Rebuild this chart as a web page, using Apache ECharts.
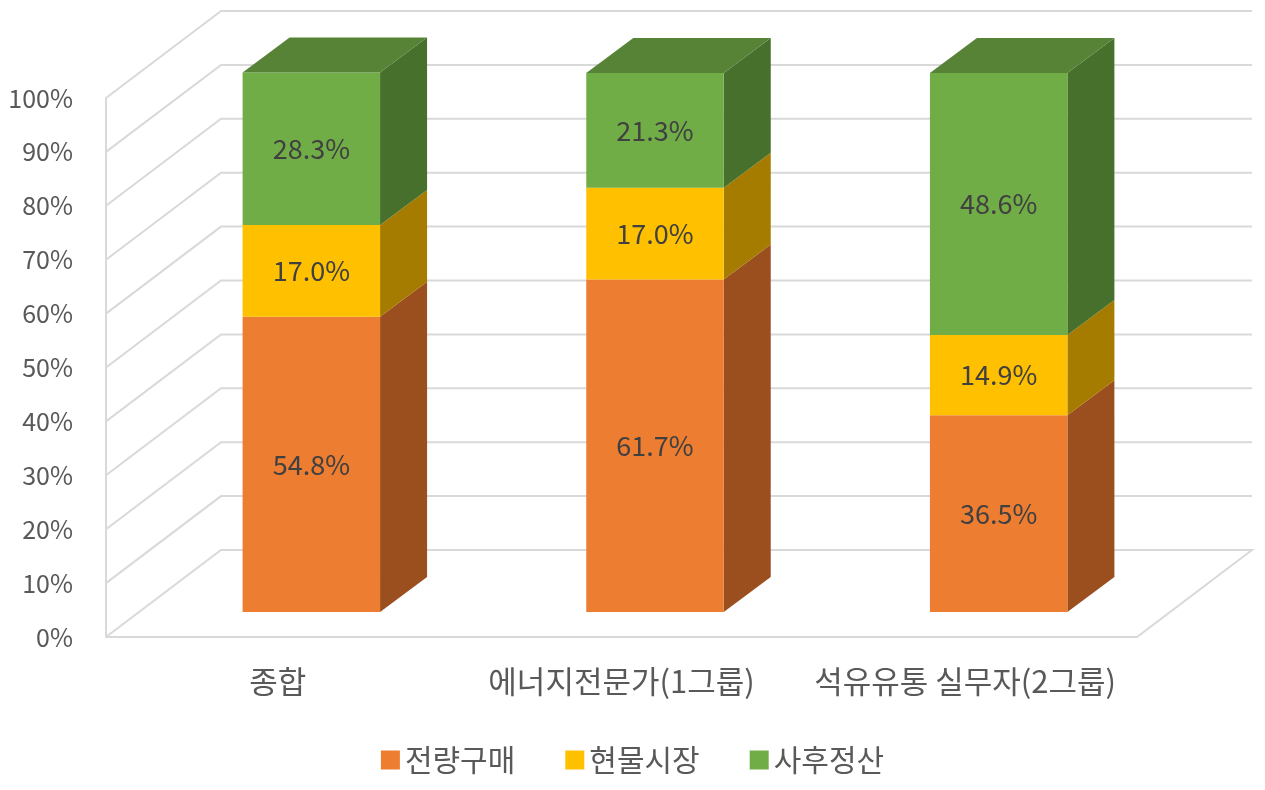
<!DOCTYPE html>
<html>
<head>
<meta charset="utf-8">
<script src="https://cdn.jsdelivr.net/npm/echarts@6/dist/echarts.min.js"></script>
<style>
  html, body { margin: 0; padding: 0; background: #fff; }
  #chart { width: 1265px; height: 790px; }
</style>
</head>
<body>
<div id="chart"></div>
<script>
const categories = ['종합', '에너지전문가(1그룹)', '석유유통 실무자(2그룹)']
const seriesNames = ['전량구매', '현물시장', '사후정산']
const forwardBuy = [54.8, 61.7, 36.5]
const spotMarket = [17.0, 17.0, 14.9]
const postSettle = [28.3, 21.3, 48.6]
const yTicks = [0, 10, 20, 30, 40, 50, 60, 70, 80, 90, 100]

const frontColors = ['#ED7D31', '#FFC000', '#70AD47']
const sideColors = ['#9C4F1E', '#A67C00', '#46702B']
const topColors = ['#C0632A', '#D9A300', '#578336']

// pseudo 3D offsets (pixels)
const FLOOR_DEPTH = [115, -87]
const BAR_SHIFT = [33.5, -25]
const BAR_DEPTH = [47, -35]
const FONT = "'Noto Sans CJK KR', 'Noto Sans', sans-serif"
const GRID_COLOR = '#D9D9D9'

const seriesValues = [forwardBuy, spotMarket, postSettle]

const renderWall = (params, api) => {
    const cs = params.coordSys
    const v = api.value(1)
    const y = api.coord([0, v])[1]
    const left = cs.x
    const right = cs.x + cs.width
    const pts = [
        [left, y],
        [left + FLOOR_DEPTH[0], y + FLOOR_DEPTH[1]],
        [right + FLOOR_DEPTH[0], y + FLOOR_DEPTH[1]],
    ]
    if (v === 0) {
        pts.push([right, y], [left, y])
    }
    return {
        type: 'polyline',
        shape: { points: pts },
        style: { stroke: GRID_COLOR, lineWidth: 2, fill: null },
        silent: true,
    }
}

const makeRenderBar = (s) => (params, api) => {
    const cat = api.value(0)
    const val = api.value(1)
    const base = api.value(2)
    const p0 = api.coord([cat, base])
    const p1 = api.coord([cat, base + val])
    const w = api.size([1, 0])[0] * 0.4
    const cx = p0[0] + BAR_SHIFT[0]
    const yb = p0[1] + BAR_SHIFT[1]
    const yt = p1[1] + BAR_SHIFT[1]
    const L = cx - w / 2
    const R = cx + w / 2
    const [dx, dy] = BAR_DEPTH
    const children = [
        {
            type: 'polygon',
            shape: { points: [[R, yb], [R + dx, yb + dy], [R + dx, yt + dy], [R, yt]] },
            style: { fill: sideColors[s] },
        },
        {
            type: 'rect',
            shape: { x: L, y: yt, width: w, height: yb - yt },
            style: { fill: frontColors[s] },
        },
    ]
    if (s === seriesValues.length - 1) {
        children.push({
            type: 'polygon',
            shape: { points: [[L, yt], [R, yt], [R + dx, yt + dy], [L + dx, yt + dy]] },
            style: { fill: topColors[s] },
        })
    }
    children.push({
        type: 'text',
        style: {
            text: val.toFixed(1) + '%',
            x: cx,
            y: (yb + yt) / 2,
            align: 'center',
            verticalAlign: 'middle',
            fill: '#404040',
            font: '27px ' + FONT,
        },
    })
    return { type: 'group', children }
}

const barSeries = seriesNames.map((name, s) => ({
    name,
    type: 'custom',
    coordinateSystem: 'cartesian2d',
    renderItem: makeRenderBar(s),
    itemStyle: { color: frontColors[s] },
    encode: { x: 0, y: 1 },
    z: 3,
    data: categories.map((c, i) => {
        let base = 0
        for (let k = 0; k < s; k++) base += seriesValues[k][i]
        return [i, seriesValues[s][i], base]
    }),
}))

const chart = echarts.init(document.getElementById('chart'))
chart.setOption({
    animation: false,
    backgroundColor: '#fff',
    grid: { left: 106, right: 128, top: 98, bottom: 153 },
    legend: {
        data: seriesNames,
        bottom: 10,
        left: 'center',
        icon: 'rect',
        itemWidth: 19,
        itemHeight: 19,
        itemGap: 50,
        textStyle: { fontSize: 30, color: '#595959', fontFamily: FONT },
    },
    xAxis: {
        type: 'category',
        data: categories,
        axisLine: { show: false },
        axisTick: { show: false },
        axisLabel: { interval: 0, fontSize: 31, color: '#595959', fontFamily: FONT, margin: 29 },
        splitLine: { show: false },
    },
    yAxis: {
        type: 'value',
        min: 0,
        max: 100,
        interval: 10,
        axisLine: { show: true, lineStyle: { color: GRID_COLOR, width: 2 } },
        axisTick: { show: false },
        splitLine: { show: false },
        axisLabel: {
            formatter: '{value}%',
            fontSize: 25,
            color: '#595959',
            fontFamily: FONT,
            margin: 33,
        },
    },
    series: [
        {
            name: 'wall',
            type: 'custom',
            coordinateSystem: 'cartesian2d',
            renderItem: renderWall,
            encode: { x: 0, y: 1 },
            z: 1,
            silent: true,
            data: yTicks.map((v) => [0, v]),
        },
        ...barSeries,
    ],
})
</script>
</body>
</html>
